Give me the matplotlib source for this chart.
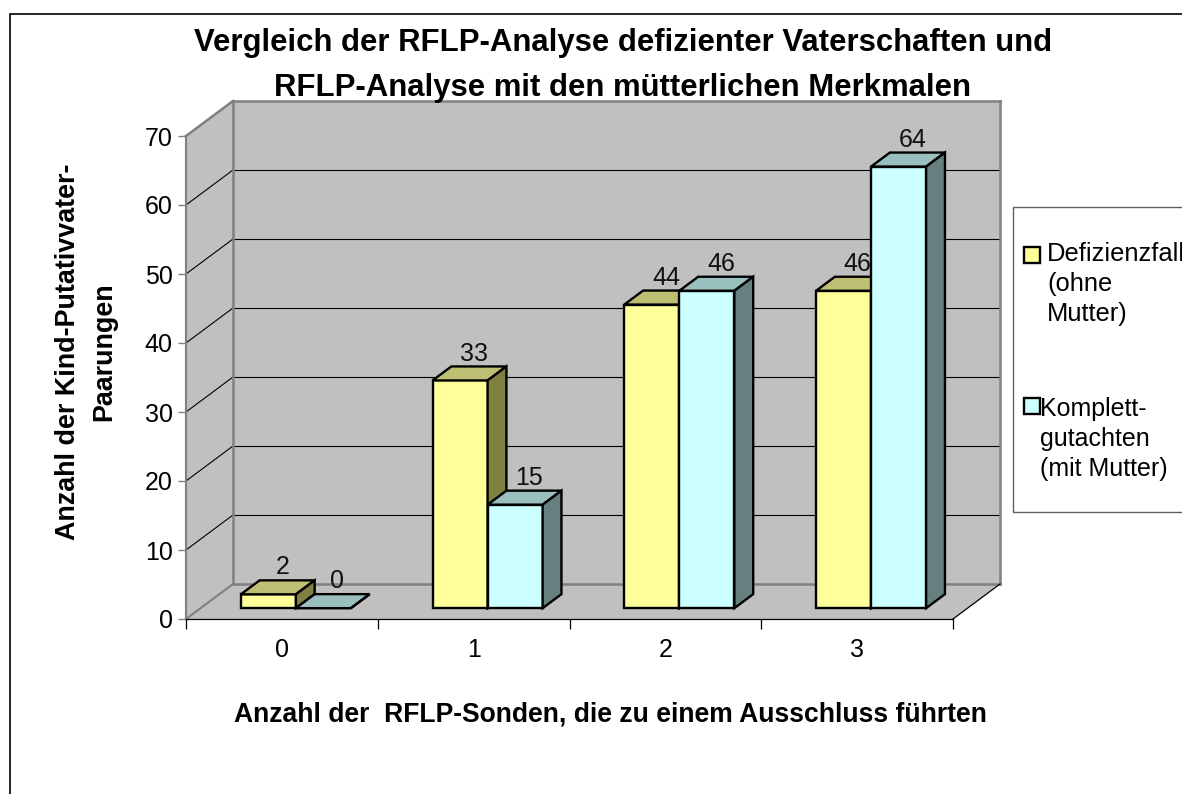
import matplotlib
matplotlib.use("Agg")
import matplotlib.pyplot as plt
from matplotlib.patches import Polygon, Rectangle

plt.rcParams['font.family'] = ['Liberation Sans', 'DejaVu Sans']

# Data
categories = ["0", "1", "2", "3"]
defizienz = [2, 33, 44, 46]
komplett = [0, 15, 46, 64]
y_ticks = [0, 10, 20, 30, 40, 50, 60, 70]

title = "Vergleich der RFLP-Analyse defizienter Vaterschaften und\nRFLP-Analyse mit den mütterlichen Merkmalen"
x_label = "Anzahl der  RFLP-Sonden, die zu einem Ausschluss führten"
y_label = "Anzahl der Kind-Putativvater-\nPaarungen"
legend_1 = "Defizienzfall\n(ohne\nMutter)"
legend_2 = "Komplett-\ngutachten\n(mit Mutter)"

W, H = 1182, 794
fig = plt.figure(figsize=(W / 100, H / 100), dpi=100)

# the front plane of the fake 3D box is the real axes
left, right, top, bottom = 186, 953, 136, 619
ax = fig.add_axes([left / W, 1 - bottom / H, (right - left) / W, (bottom - top) / H])
ax.set_xlim(0, len(categories))
ax.set_ylim(0, 70)
ax.patch.set_visible(False)

# depth of the box in data units
depth_x = 47 / ((right - left) / len(categories))
depth_y = 35 / ((bottom - top) / 70)


def pt(x, v, d):
    # oblique projection, d = 0 front, d = 1 back wall
    return (x + d * depth_x, v + d * depth_y)


def face(points, fc, ec, lw, z):
    ax.add_patch(Polygon(points, closed=True, facecolor=fc, edgecolor=ec, linewidth=lw,
                         joinstyle='miter', zorder=z, clip_on=False))


# walls and floor
wall = '#C0C0C0'
wall_edge = '#808080'
n = len(categories)
face([pt(0, 0, 0), pt(0, 0, 1), pt(0, 70, 1), pt(0, 70, 0)], wall, 'none', 0, 1)
face([pt(0, 0, 1), pt(n, 0, 1), pt(n, 70, 1), pt(0, 70, 1)], wall, 'none', 0, 1)
face([pt(0, 0, 0), pt(n, 0, 0), pt(n, 0, 1), pt(0, 0, 1)], wall, 'none', 0, 1)

# gridlines on back and side wall
for v in y_ticks[1:-1]:
    x0, y0 = pt(0, v, 0)
    x1, y1 = pt(0, v, 1)
    x2, y2 = pt(n, v, 1)
    ax.plot([x0, x1], [y0, y1], color='black', lw=0.8, zorder=2, clip_on=False)
    ax.plot([x1, x2], [y1, y2], color='black', lw=0.8, zorder=2, clip_on=False)

# thick grey outline of the box
for a, b in [(pt(0, 70, 0), pt(0, 70, 1)), (pt(0, 70, 1), pt(n, 70, 1)),
             (pt(n, 70, 1), pt(n, 0, 1)), (pt(n, 0, 1), pt(0, 0, 1)),
             (pt(0, 0, 1), pt(0, 70, 1))]:
    ax.plot([a[0], b[0]], [a[1], b[1]], color=wall_edge, lw=1.8, zorder=3, clip_on=False,
            solid_capstyle='projecting')
ax.plot(*zip(pt(0, 0, 0), pt(0, 0, 1)), color=wall_edge, lw=1.5, zorder=3, clip_on=False)
ax.plot(*zip(pt(n, 0, 0), pt(n, 0, 1)), color='black', lw=0.9, zorder=3, clip_on=False)

# bars
gap = 0.21
bar_w = 0.287
d0, d1 = 0.31, 0.71
d_label = 0.61
label_up = 3.9


def bar3d(x, v, front, top_c, side, z):
    x2 = x + bar_w
    face([pt(x, 0, d0), pt(x2, 0, d0), pt(x2, v, d0), pt(x, v, d0)], front, 'black', 1.7, z)
    face([pt(x, v, d0), pt(x2, v, d0), pt(x2, v, d1), pt(x, v, d1)], top_c, 'black', 1.7, z)
    face([pt(x2, 0, d0), pt(x2, 0, d1), pt(x2, v, d1), pt(x2, v, d0)], side, 'black', 1.7, z)
    lx = pt(x + bar_w / 2, v, d_label)[0]
    ly = pt(x, v, d0)[1] + label_up
    ax.text(lx, ly, str(v), ha='center', va='center', fontsize=18, color='#111111', zorder=20)


for i in range(n):
    bar3d(i + gap, defizienz[i], '#FFFF99', '#BFBF73', '#808040', 10 + i)
    bar3d(i + gap + bar_w, komplett[i], '#CCFFFF', '#99BFBF', '#668080', 10 + i)

# axes ticks and labels
ax.set_xticks(range(n + 1))
ax.set_xticklabels([])
ax.set_xticks([i + 0.5 for i in range(n)], minor=True)
ax.set_xticklabels(categories, minor=True, fontsize=18)
ax.set_yticks(y_ticks)
ax.tick_params(axis='y', labelsize=18, length=6, width=1, color=wall_edge, pad=3.6)
ax.tick_params(axis='x', which='major', length=7.2, width=0.9, color='black')
ax.tick_params(axis='x', which='minor', length=0, pad=13.8)
for s in ['top', 'right']:
    ax.spines[s].set_visible(False)
ax.spines['left'].set_color(wall_edge)
ax.spines['left'].set_linewidth(1.5)
ax.spines['left'].set_zorder(4)
ax.spines['bottom'].set_color('black')
ax.spines['bottom'].set_linewidth(0.9)
ax.spines['bottom'].set_zorder(4)

# outer frame, title, axis titles and legend are placed in figure pixels
fig.add_artist(Rectangle((10 / W, -0.01), 1.1, 1 - 14 / H + 0.01, transform=fig.transFigure,
                         fill=False, edgecolor='black', linewidth=1.2))
fig.text(623 / W, 1 - 65.5 / H, title, ha='center', va='center', fontsize=22.4, fontweight='bold',
         linespacing=1.63)
fig.text(610 / W, 1 - 715 / H, x_label, ha='center', va='center', fontsize=19.1, fontweight='bold')
fig.text(86.5 / W, 1 - 352 / H, y_label, ha='center', va='center', rotation=90, fontsize=19.4,
         fontweight='bold', multialignment='center', linespacing=1.51)

fig.add_artist(Rectangle((1013 / W, 1 - 512 / H), 1.1, 305 / H, transform=fig.transFigure,
                         facecolor='white', edgecolor='#606060', linewidth=1))
fig.add_artist(Rectangle((1024 / W, 1 - 263 / H), 16 / W, 16 / H, transform=fig.transFigure,
                         facecolor='#FFFF99', edgecolor='black', linewidth=1.7))
fig.add_artist(Rectangle((1024 / W, 1 - 414 / H), 16 / W, 16 / H, transform=fig.transFigure,
                         facecolor='#CCFFFF', edgecolor='black', linewidth=1.7))
fig.text(1047 / W, 1 - 284 / H, legend_1, ha='left', va='center', fontsize=18.4, linespacing=1.3)
fig.text(1040 / W, 1 - 439 / H, legend_2, ha='left', va='center', fontsize=18, linespacing=1.3)

fig.savefig("out.png", dpi=100)
